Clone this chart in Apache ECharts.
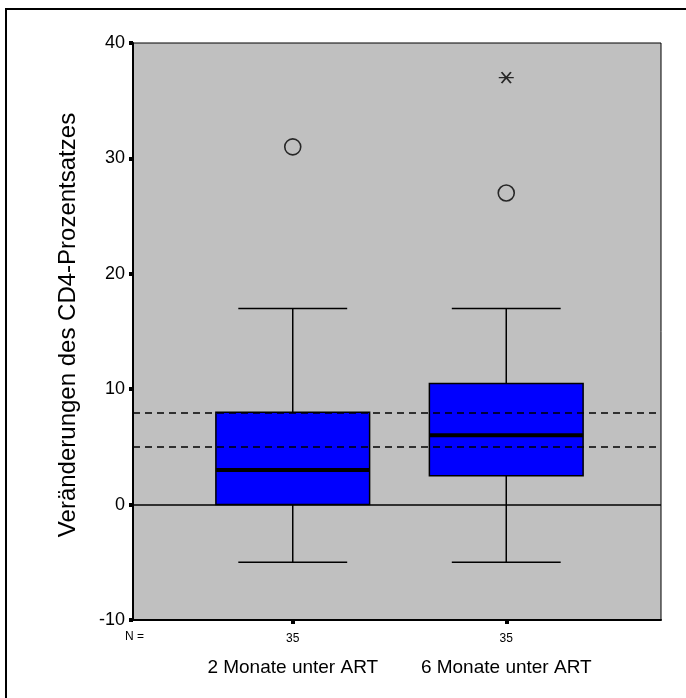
<!DOCTYPE html>
<html>
<head>
<meta charset="utf-8">
<script src="https://cdn.jsdelivr.net/npm/echarts@6/dist/echarts.min.js"></script>
<style>
  html, body { margin: 0; padding: 0; background: #fff; }
  #chart { width: 686px; height: 698px; }
</style>
</head>
<body>
<div id="chart"></div>
<script>
// Groups on the x axis
const categories = ['2 Monate unter ART', '6 Monate unter ART'];
// Sample size per group
const nCounts = [35, 35];
// Box statistics per group: [lower whisker, Q1, median, Q3, upper whisker]
const boxStats = [
  [-5, 0, 3, 8, 17],
  [-5, 2.5, 6, 10.5, 17]
];
// Outliers (circles) and extreme values (asterisks): [group index, value]
const outliers = [[0, 31], [1, 27]];
const extremes = [[1, 37]];
// Horizontal reference lines
const zeroLine = 0;
const dashedLines = [5, 8];
// Value axis range and step
const yMin = -10, yMax = 40, yStep = 10;
const yTitle = 'Veränderungen des CD4-Prozentsatzes';

const FONT = 'Arial, "Liberation Sans", sans-serif';
const chart = echarts.init(document.getElementById('chart'), null, { renderer: 'canvas' });

const gridTop = 43, gridBottom = 78;

chart.setOption({
  animation: false,
  backgroundColor: '#ffffff',
  grid: [
    // full plotting frame (grey panel)
    { left: 133, right: 25, top: gridTop, bottom: gridBottom, show: true,
      backgroundColor: '#c0c0c0', borderColor: '#000', borderWidth: 1 },
    // inner band holding the two groups
    { left: 186, right: 73, top: gridTop, bottom: gridBottom }
  ],
  xAxis: [
    { gridIndex: 0, type: 'value', min: 0, max: 1, show: true,
      axisLine: { show: true, onZero: false, lineStyle: { color: '#000', width: 2 } },
      axisTick: { show: false }, axisLabel: { show: false }, splitLine: { show: false } },
    { gridIndex: 1, type: 'category', data: categories, boundaryGap: true,
      axisLine: { show: false, onZero: false },
      axisTick: { show: true, alignWithLabel: true, length: 4, lineStyle: { color: '#000', width: 4 } },
      axisLabel: {
        margin: 8,
        interval: 0,
        formatter: function (value, idx) {
          return '{n|' + nCounts[idx] + '}\n{c|' + value + '}';
        },
        rich: {
          n: { fontFamily: FONT, fontSize: 12, color: '#000', lineHeight: 22 },
          c: { fontFamily: FONT, fontSize: 19, color: '#000', lineHeight: 36 }
        }
      },
      splitLine: { show: false } }
  ],
  yAxis: [
    { gridIndex: 0, type: 'value', min: yMin, max: yMax, interval: yStep,
      axisLine: { show: true, onZero: false, lineStyle: { color: '#000', width: 2 } },
      axisTick: { show: true, length: 4, lineStyle: { color: '#000', width: 4 } },
      axisLabel: { margin: 8, fontFamily: FONT, fontSize: 18, color: '#000' },
      splitLine: { show: false } },
    { gridIndex: 1, type: 'value', min: yMin, max: yMax, interval: yStep, show: false }
  ],
  graphic: [
    { type: 'polyline', silent: true, z: 10,
      shape: { points: [[6, 698], [6, 9], [686, 9]] },
      style: { stroke: '#000', lineWidth: 2, fill: null } },
    { type: 'text', x: 68, y: 325, rotation: Math.PI / 2, silent: true,
      style: { text: yTitle, font: '24px ' + FONT, fill: '#000',
               align: 'center', verticalAlign: 'middle' } },
    { type: 'text', x: 125, y: 631, silent: true,
      style: { text: 'N =', font: '12px ' + FONT, fill: '#000' } }
  ],
  series: [
    {
      type: 'custom',
      xAxisIndex: 1, yAxisIndex: 1,
      z: 2,
      data: boxStats.map(function (s, i) { return [i].concat(s); }),
      encode: { x: 0, y: [1, 2, 3, 4, 5] },
      renderItem: function (params, api) {
        const x = api.value(0);
        const lo = api.coord([x, api.value(1)]);
        const q1 = api.coord([x, api.value(2)]);
        const med = api.coord([x, api.value(3)]);
        const q3 = api.coord([x, api.value(4)]);
        const hi = api.coord([x, api.value(5)]);
        const band = api.size([1, 0])[0];
        const bw = band * 0.72, cw = band * 0.51;
        const cx = med[0];
        const ln = { stroke: '#000', lineWidth: 1.5 };
        return {
          type: 'group',
          children: [
            { type: 'line', shape: { x1: cx, y1: q3[1], x2: cx, y2: hi[1] }, style: ln },
            { type: 'line', shape: { x1: cx, y1: q1[1], x2: cx, y2: lo[1] }, style: ln },
            { type: 'line', shape: { x1: cx - cw / 2, y1: hi[1], x2: cx + cw / 2, y2: hi[1] }, style: ln },
            { type: 'line', shape: { x1: cx - cw / 2, y1: lo[1], x2: cx + cw / 2, y2: lo[1] }, style: ln },
            { type: 'rect', shape: { x: cx - bw / 2, y: q3[1], width: bw, height: q1[1] - q3[1] },
              style: { fill: '#0000ff', stroke: '#000', lineWidth: 1.5 } },
            { type: 'line', shape: { x1: cx - bw / 2, y1: med[1], x2: cx + bw / 2, y2: med[1] },
              style: { stroke: '#000', lineWidth: 4 } }
          ]
        };
      }
    },
    {
      type: 'scatter', xAxisIndex: 1, yAxisIndex: 1, z: 4,
      data: outliers,
      symbol: 'circle', symbolSize: 16,
      itemStyle: { color: 'rgba(0,0,0,0)', borderColor: '#000', borderWidth: 1.6 }
    },
    {
      type: 'scatter', xAxisIndex: 1, yAxisIndex: 1, z: 4,
      data: extremes,
      symbol: 'path://M0,5L16,5M3,0L13,10M13,0L3,10', symbolSize: [15, 11],
      itemStyle: { color: 'rgba(0,0,0,0)', borderColor: '#000', borderWidth: 1.6 }
    },
    {
      type: 'line', xAxisIndex: 0, yAxisIndex: 0, z: 3,
      data: [], silent: true,
      markLine: {
        silent: true, symbol: 'none', label: { show: false },
        data: [
          { yAxis: zeroLine, lineStyle: { color: '#000', width: 1.5, type: 'solid' } }
        ].concat(dashedLines.map(function (v) {
          return { yAxis: v, lineStyle: { color: '#000', width: 1.5, type: [7, 5] } };
        }))
      }
    }
  ]
});
</script>
</body>
</html>
